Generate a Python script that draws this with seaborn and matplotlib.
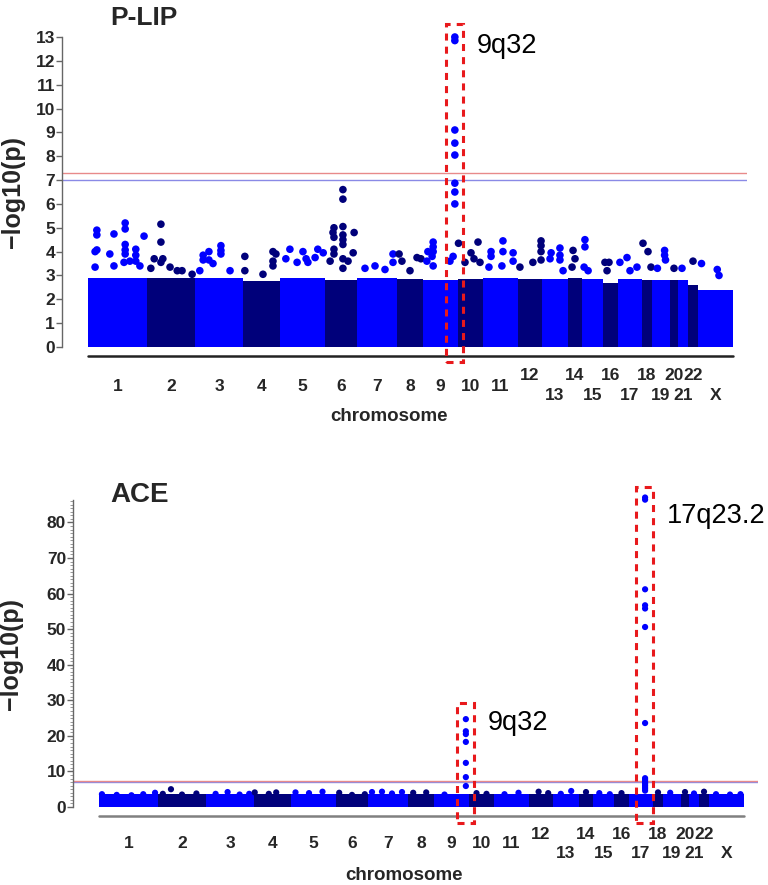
import matplotlib.pyplot as plt
import matplotlib.patches as mpatches
import numpy as np
import pandas as pd
import seaborn as sns

sns.set_theme(style="white")
plt.rcParams['font.family'] = ['Liberation Sans', 'DejaVu Sans']
plt.rcParams['font.weight'] = 'bold'

# chromosomes and their drawn widths
chroms = [str(i) for i in range(1, 23)] + ['X']
chrom_width = [59, 48, 48, 37, 45, 32, 40, 26, 35, 25, 35, 24, 26, 14, 21, 15, 24, 10, 18, 8, 10, 10, 35]
upper_row = ['12', '14', '16', '18', '20', '22']
lower_row = ['13', '15', '17', '19', '21', 'X']

# top of the dense cloud of SNPs per chromosome
plip_band = [2.9, 2.9, 2.9, 2.75, 2.9, 2.8, 2.9, 2.85, 2.8, 2.85, 2.9, 2.85, 2.85, 2.9, 2.85, 2.7,
             2.85, 2.8, 2.8, 2.8, 2.8, 2.6, 2.4]
ace_band = [3.6] * 23

# P-LIP: SNPs above the cloud, position within chromosome (0-1) and -log10(p)
plip_pos = [
    [0.15, 0.15, 0.15, 0.12, 0.12, 0.37, 0.44, 0.44, 0.63, 0.63, 0.63, 0.63, 0.63, 0.61, 0.71, 0.81, 0.81, 0.81, 0.95, 0.88],
    [0.29, 0.29, 0.29, 0.15, 0.33, 0.08, 0.48, 0.63, 0.73, 0.94],
    [0.17, 0.17, 0.29, 0.29, 0.375, 0.54, 0.54, 0.54, 0.73, 0.10],
    [0.05, 0.05, 0.54, 0.81, 0.89, 0.81, 0.81],
    [0.13, 0.22, 0.38, 0.51, 0.58, 0.62, 0.84, 0.78, 0.96],
    [0.25, 0.28, 0.28, 0.28, 0.28, 0.56, 0.56, 0.56, 0.56, 0.56, 0.56, 0.56, 0.56, 0.91, 0.88, 0.72, 0.16],
    [0.2, 0.45, 0.7, 0.9, 0.9],
    [0.08, 0.19, 0.5, 0.77, 0.92],
    [0.11, 0.14, 0.29, 0.29, 0.29, 0.26, 0.29, 0.91, 0.91, 0.91, 0.91, 0.91, 0.91, 0.91, 0.91, 0.86, 0.77],
    [0.02, 0.52, 0.8, 0.64, 0.28, 0.88],
    [0.23, 0.23, 0.17, 0.57, 0.57, 0.86, 0.86, 0.54],
    [0.08, 0.96, 0.96, 0.96, 0.96, 0.62],
    [0.35, 0.31, 0.69, 0.69, 0.69, 0.81],
    [0.36, 0.5, 0.29],
    [0.14, 0.14, 0.1, 0.29],
    [0.13, 0.4, 0.27],
    [0.375, 0.08, 0.79, 0.5],
    [0.1, 0.6, 0.9],
    [0.7, 0.7, 0.75, 0.3],
    [0.5],
    [0.4],
    [0.5],
    [0.1, 0.55, 0.6],
]
plip_val = [
    [4.9, 4.7, 4.07, 4.0, 3.35, 3.9, 4.74, 3.4, 5.2, 4.95, 4.3, 4.07, 3.9, 3.55, 3.6, 4.1, 3.85, 3.6, 4.65, 3.4],
    [5.15, 4.4, 3.55, 3.7, 3.7, 3.3, 3.35, 3.2, 3.2, 3.05],
    [3.85, 3.65, 4.0, 3.65, 3.5, 4.25, 4.05, 3.9, 3.2, 3.2],
    [3.8, 3.2, 3.05, 4.0, 3.9, 3.6, 3.4],
    [3.7, 4.1, 3.55, 4.0, 3.7, 3.55, 4.1, 3.75, 3.95],
    [4.8, 5.0, 4.6, 4.1, 3.9, 6.6, 6.2, 5.05, 4.7, 4.5, 4.3, 3.7, 3.3, 4.8, 3.95, 3.6, 3.6],
    [3.3, 3.4, 3.25, 3.55, 3.9],
    [3.9, 3.6, 3.2, 3.75, 3.7],
    [3.6, 4.0, 4.4, 4.2, 4.0, 3.8, 3.4, 13.0, 12.85, 9.1, 8.55, 8.05, 6.87, 6.5, 6.0, 3.8, 3.6],
    [4.35, 3.95, 4.4, 3.7, 3.55, 3.55],
    [4.0, 3.8, 3.35, 4.45, 4.0, 3.95, 3.6, 3.4],
    [3.35, 4.45, 4.25, 4.0, 3.65, 3.55],
    [3.95, 3.7, 4.15, 3.85, 3.65, 3.2],
    [4.05, 3.7, 3.35],
    [4.5, 4.2, 3.35, 3.2],
    [3.55, 3.55, 3.2],
    [3.75, 3.55, 3.35, 3.2],
    [4.35, 4.0, 3.35],
    [4.05, 3.85, 3.65, 3.3],
    [3.3],
    [3.3],
    [3.6],
    [3.5, 3.25, 3.0],
]

# ACE
ace_pos = [
    [0.05, 0.3, 0.55, 0.75, 0.95],
    [0.1, 0.27, 0.5, 0.8],
    [0.2, 0.45, 0.7, 0.9],
    [0.02, 0.4, 0.6],
    [0.1, 0.4, 0.7],
    [0.1, 0.5, 0.9],
    [0.1, 0.35, 0.6, 0.85],
    [0.2, 0.7],
    [0.3, 0.91, 0.91, 0.91, 0.91, 0.91, 0.91, 0.91],
    [0.3, 0.7],
    [0.3, 0.7],
    [0.4, 0.8],
    [0.3, 0.7],
    [0.5],
    [0.3, 0.8],
    [0.5],
    [0.67, 0.67, 0.67, 0.67, 0.67, 0.67, 0.67, 0.67, 0.67, 0.67, 0.67, 0.67, 0.67, 0.67, 0.67],
    [0.5],
    [0.4],
    [0.5],
    [0.5],
    [0.5],
    [0.2, 0.6, 0.9],
]
ace_val = [
    [3.6, 3.4, 3.3, 3.6, 4.0],
    [3.7, 5.0, 3.5, 3.8],
    [3.7, 4.2, 3.5, 3.7],
    [4.1, 3.7, 4.1],
    [4.1, 3.9, 4.3],
    [4.0, 3.4, 3.6],
    [4.2, 4.3, 3.8, 4.2],
    [4.0, 4.1],
    [3.5, 24.7, 21.3, 20.5, 18.3, 12.4, 8.4, 5.9],
    [3.9, 3.7],
    [3.6, 4.0],
    [4.3, 3.9],
    [3.7, 4.5],
    [4.2],
    [3.9, 3.6],
    [3.9],
    [87.0, 86.4, 61.2, 56.7, 55.8, 50.6, 23.6, 8.1, 7.6, 7.1, 6.6, 6.1, 5.6, 5.1, 4.6],
    [4.1],
    [4.0],
    [4.2],
    [3.8],
    [4.3],
    [3.6, 3.5, 3.6],
]

light, dark = '#0000ff', '#00007a'
box_red = '#e8191c'

widths = np.array(chrom_width, dtype=float)
starts = np.concatenate([[0], np.cumsum(widths)[:-1]])
centers = starts + widths / 2
total = widths.sum()
band_colors = [light if i % 2 == 0 else dark for i in range(len(chroms))]


def snp_frame(pos, val):
    rows = []
    for i, (p, v) in enumerate(zip(pos, val)):
        for a, b in zip(p, v):
            rows.append({'x': starts[i] + a * widths[i], 'logp': b, 'odd': i % 2 == 0})
    return pd.DataFrame(rows)


def draw_panel(ax, band, pos, val, rows_y, base_color, size):
    ax.bar(starts, band, width=widths, align='edge', color=band_colors, linewidth=0, zorder=1)
    df = snp_frame(pos, val)
    sns.scatterplot(data=df, x='x', y='logp', hue='odd', palette={True: light, False: dark},
                    s=size, linewidth=0, legend=False, ax=ax, zorder=3, clip_on=False)
    ax.axhline(7.0, color='#8a8ae6', lw=1, zorder=2)
    ax.axhline(-np.log10(5e-8), color='#e88a8a', lw=1, zorder=2)
    ax.plot([0, total], [-0.028, -0.028], transform=ax.get_xaxis_transform(),
            color=base_color, lw=1.8, clip_on=False)
    ax.set_xlim(starts[0] - 26, starts[0] - 26 + 685)
    for s in ['top', 'right', 'bottom']:
        ax.spines[s].set_visible(False)
    ax.spines['left'].set_color('#666666')
    ax.spines['left'].set_linewidth(1)
    # chromosome names, two staggered rows for the small ones
    ax.set_xticks([])
    trans = ax.get_xaxis_transform()
    for c, x in zip(chroms, centers):
        y = rows_y[1] if c in upper_row else rows_y[2] if c in lower_row else rows_y[0]
        ax.text(x, y, c, transform=trans, ha='center', va='center', fontsize=12.5, fontweight='bold')
    ax.tick_params(axis='y', which='major', length=4, width=1, color='#666666',
                   pad=1, labelsize=12.5, left=True)
    ax.set_ylabel('\u2212log10(p)', fontsize=18, fontweight='bold')
    ax.set_xlabel('chromosome', fontsize=13.5, fontweight='bold')
    ax.grid(False)


def peak_box(ax, chrom, frac, y0, y1, label, ty):
    i = chroms.index(chrom)
    px = starts[i] + frac * widths[i]
    ax.add_patch(mpatches.Rectangle((px - 9, y0), 17, y1 - y0, fill=False, ec=box_red,
                                    lw=2.2, ls=(0, (2.3, 2)), clip_on=False, zorder=4))
    ax.text(px + 22, ty, label, fontsize=19.5, fontweight='normal', va='baseline', color='black')


W, H = 768, 885
fig = plt.figure(figsize=(W / 100, H / 100), dpi=100)
ax1 = fig.add_axes([62 / W, 1 - 347 / H, 685 / W, 310 / H])
ax2 = fig.add_axes([73 / W, 1 - 807 / H, 685 / W, 307 / H])

# P-LIP
draw_panel(ax1, plip_band, plip_pos, plip_val, (-0.129, -0.0935, -0.158), '#222222', 30)
ax1.set_ylim(0, 13)
ax1.set_yticks(range(0, 14))
ax1.yaxis.set_label_coords(-0.054, 0.5)
ax1.xaxis.set_label_coords(0.477, -0.196)
ax1.text(0.07, 1.039, 'P-LIP', transform=ax1.transAxes, fontsize=19, fontweight='bold', va='baseline')
peak_box(ax1, '9', 0.91, -0.63, 13.54, '9q32', 12.33)

# ACE
draw_panel(ax2, ace_band, ace_pos, ace_val, (-0.1205, -0.088, -0.153), '#808080', 20)
ax2.set_ylim(0, 86.3)
ax2.set_yticks(range(0, 81, 10))
ax2.set_yticks(range(0, 87), minor=True)
ax2.tick_params(axis='y', which='minor', length=2.5, width=0.6, color='#888888', left=True)
ax2.yaxis.set_label_coords(-0.073, 0.5)
ax2.xaxis.set_label_coords(0.483, -0.196)
ax2.text(0.054, 0.9935, 'ACE', transform=ax2.transAxes, fontsize=20, fontweight='bold', va='baseline')
peak_box(ax2, '9', 0.91, -4.5, 29.2, '9q32', 21.6)
peak_box(ax2, '17', 0.67, -4.5, 89.9, '17q23.2', 79.8)

fig.savefig('out.png', dpi=100)
